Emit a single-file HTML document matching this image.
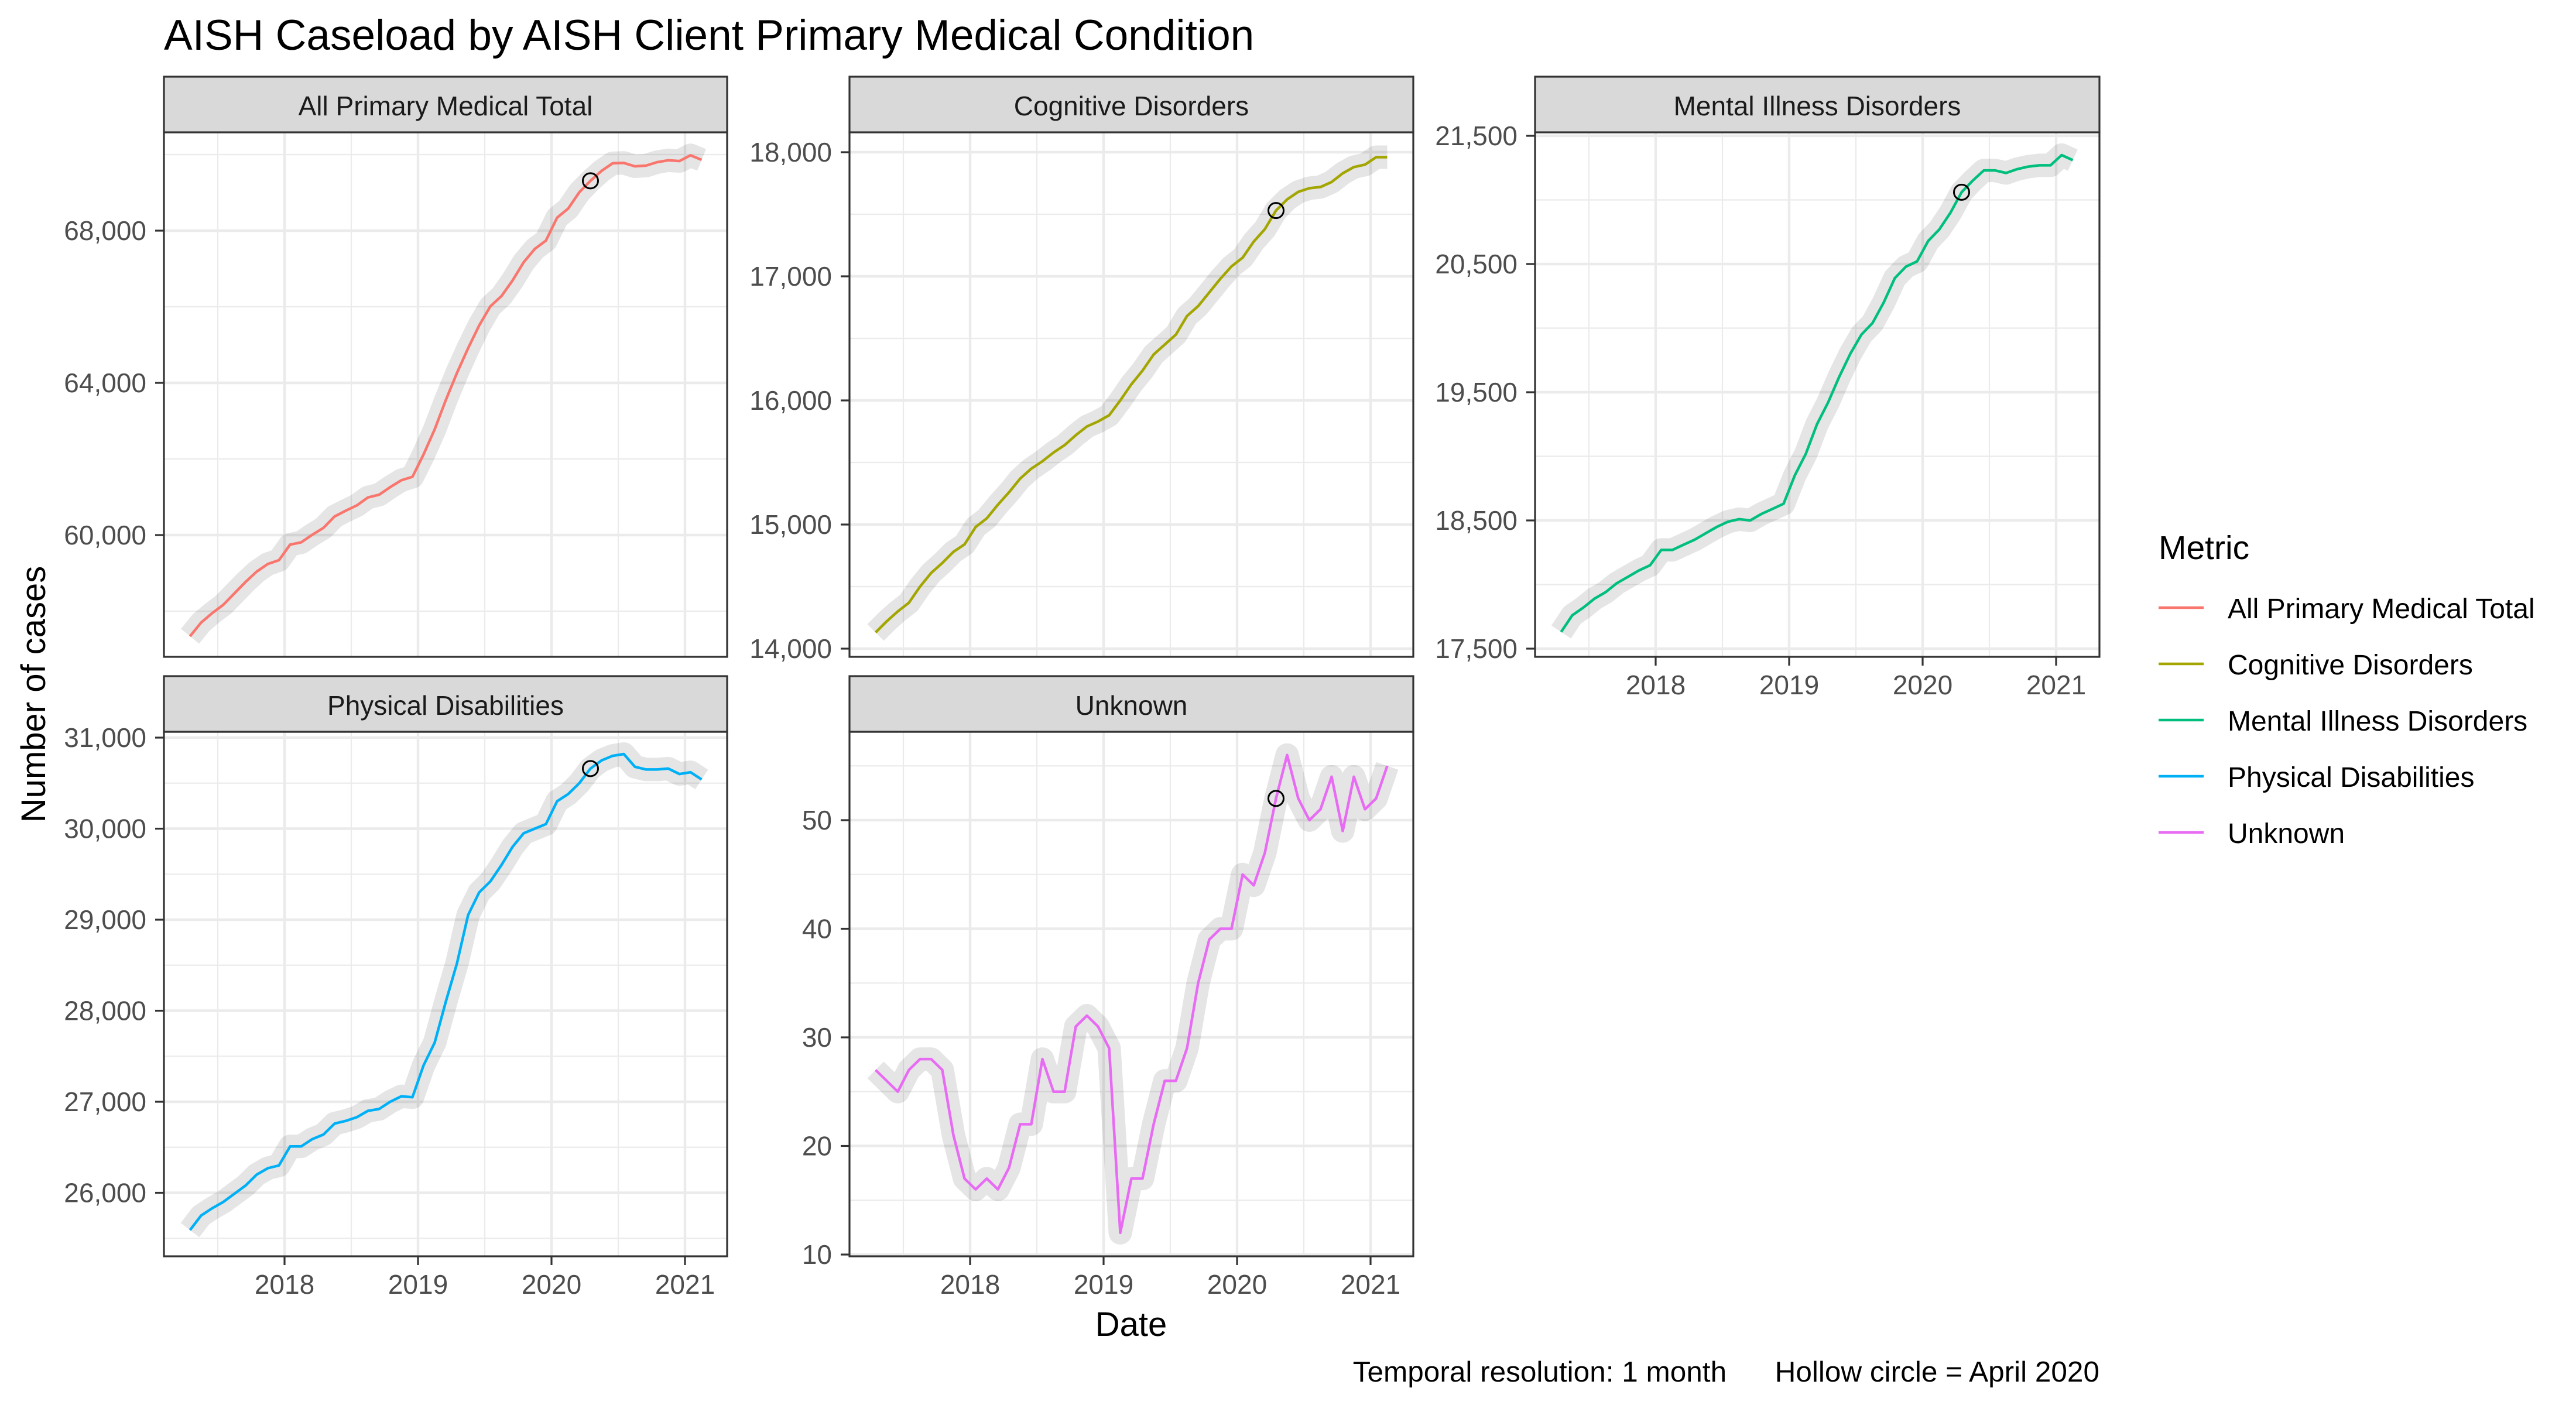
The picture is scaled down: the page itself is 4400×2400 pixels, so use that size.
<!DOCTYPE html>
<html><head><meta charset="utf-8"><style>
html,body{margin:0;padding:0;background:#fff;}
svg{display:block;font-family:"Liberation Sans",Arial,sans-serif;}
</style></head><body>
<svg id="chart" width="4400" height="2400" viewBox="0 0 4400 2400" xmlns="http://www.w3.org/2000/svg">
<rect width="4400" height="2400" fill="#fff"/>
<text x="280" y="85" font-size="73" fill="#000">AISH Caseload by AISH Client Primary Medical Condition</text>
<text transform="translate(77,1186) rotate(-90)" text-anchor="middle" font-size="58" fill="#000">Number of cases</text>
<text x="1932" y="2282" text-anchor="middle" font-size="58" fill="#000">Date</text>
<text x="3586" y="2360" text-anchor="end" font-size="49.5" fill="#000" xml:space="preserve">Temporal resolution: 1 month      Hollow circle = April 2020</text>
<g id="panels"></g>
<g id="legend">
<text x="3687" y="955" font-size="57" fill="#000">Metric</text>
</g>
</svg>
<script>
// ---- data ----
const startYear = 2017;
const startMonth = 4; // April 2017, monthly to Feb 2021
const xTickYears = [2018, 2019, 2020, 2021];
const highlightIndex = 36; // April 2020
const seriesNames = ["All Primary Medical Total", "Cognitive Disorders", "Mental Illness Disorders", "Physical Disabilities", "Unknown"];
const seriesColors = ["#F8766D", "#A3A500", "#00BF7D", "#00B0F6", "#E76BF3"];
const allTotal = [57340,57700,57950,58170,58470,58770,59040,59240,59340,59750,59810,60010,60190,60490,60640,60780,60990,61060,61260,61440,61530,62120,62780,63550,64260,64910,65510,66010,66280,66690,67170,67520,67740,68340,68580,69010,69310,69570,69770,69780,69690,69710,69800,69850,69830,69980,69860];
const cognitive = [14130,14220,14300,14370,14500,14610,14690,14780,14840,14980,15050,15160,15260,15370,15450,15510,15580,15640,15720,15790,15830,15880,16000,16130,16240,16370,16450,16530,16680,16760,16870,16980,17080,17150,17280,17380,17530,17620,17680,17710,17720,17760,17830,17880,17900,17960,17960];
const mental = [17630,17760,17820,17890,17940,18010,18060,18110,18150,18270,18270,18310,18350,18400,18450,18490,18510,18500,18550,18590,18630,18850,19020,19250,19420,19620,19800,19950,20040,20200,20390,20480,20520,20680,20770,20900,21060,21150,21230,21230,21210,21240,21260,21270,21270,21350,21310];
const physical = [25590,25750,25830,25900,25990,26080,26200,26270,26300,26510,26510,26590,26640,26760,26790,26830,26900,26920,27000,27060,27050,27400,27650,28100,28520,29050,29300,29420,29600,29800,29950,30000,30050,30300,30380,30500,30660,30750,30800,30820,30680,30650,30650,30660,30600,30620,30540];
const unknown = [27,26,25,27,28,28,27,21,17,16,17,16,18,22,22,28,25,25,31,32,31,29,12,17,17,22,26,26,29,35,39,40,40,45,44,47,52,56,52,50,51,54,49,54,51,52,55];
const ticksAll = [60000, 64000, 68000];
const ticksCog = [14000, 15000, 16000, 17000, 18000];
const ticksMental = [17500, 18500, 19500, 20500, 21500];
const ticksPhys = [26000, 27000, 28000, 29000, 30000, 31000];
const ticksUnknown = [10, 20, 30, 40, 50];

// ---- layout ----
const NS = "http://www.w3.org/2000/svg";
const layout = [
  {left:280, right:1242, top:131, refV:68000, refY:394, ppu:0.065, xlabels:false},
  {left:1451, right:2414, top:131, refV:18000, refY:260, ppu:0.212, xlabels:false},
  {left:2622, right:3586, top:131, refV:21500, refY:232, ppu:0.219, xlabels:true},
  {left:280, right:1242, top:1155, refV:31000, refY:1260, ppu:0.1555, xlabels:true},
  {left:1451, right:2414, top:1155, refV:10, refY:2143, ppu:18.55, xlabels:true}
];
const allSeries = [allTotal, cognitive, mental, physical, unknown];
const allTicks = [ticksAll, ticksCog, ticksMental, ticksPhys, ticksUnknown];
const STRIP = 95, PLOT = 896;

function mk(tag, attrs, parent){
  const e = document.createElementNS(NS, tag);
  for (const k in attrs) e.setAttribute(k, attrs[k]);
  parent.appendChild(e);
  return e;
}
function fmt(v){ return v >= 1000 ? v.toLocaleString("en-US") : String(v); }

const root = document.getElementById("panels");
layout.forEach((L, p) => {
  const data = allSeries[p], ticks = allTicks[p];
  const pt = L.top + STRIP, pb = pt + PLOT;
  const xScale = yr => L.left + 206 + (yr - 2018) * 228;
  const xOf = i => xScale(startYear + (startMonth - 1 + i + 0.5) / 12);
  const yOf = v => L.refY - (v - L.refV) * L.ppu;
  const slug = seriesNames[p].toLowerCase().replace(/ /g, "-");
  const g = mk("g", {}, root);
  
  
  mk("rect", {x:L.left, y:pt, width:L.right-L.left, height:PLOT, fill:"#fff"}, g);
  const clip = mk("clipPath", {id:"clip"+p}, g);
  mk("rect", {x:L.left, y:pt, width:L.right-L.left, height:PLOT}, clip);
  const grid = mk("g", {"clip-path":"url(#clip"+p+")"}, g);
  
  
  const step = ticks[1] - ticks[0];
  for (let k = -2; k < ticks.length + 2; k++) {
    const vmaj = ticks[0] + k * step, vmin = vmaj + step / 2;
    const ymin = yOf(vmin);
    if (ymin > pt && ymin < pb) mk("line", {x1:L.left, x2:L.right, y1:ymin, y2:ymin, stroke:"#EBEBEB", "stroke-width":2.2}, grid);
    const ymaj = yOf(vmaj);
    if (ymaj > pt - 3 && ymaj < pb + 3) mk("line", {x1:L.left, x2:L.right, y1:ymaj, y2:ymaj, stroke:"#EBEBEB", "stroke-width":4.4}, grid);
  }
  for (let yr = 2017; yr <= 2022; yr++) {
    const xm = xScale(yr), xn = xScale(yr + 0.5);
    if (xn > L.left && xn < L.right) mk("line", {x1:xn, x2:xn, y1:pt, y2:pb, stroke:"#EBEBEB", "stroke-width":2.2}, grid);
    if (xm > L.left && xm < L.right) mk("line", {x1:xm, x2:xm, y1:pt, y2:pb, stroke:"#EBEBEB", "stroke-width":4.4}, grid);
  }
  const pts = data.map((v, i) => xOf(i).toFixed(1) + "," + yOf(v).toFixed(1)).join(" ");
  const halo = mk("polyline", {points:pts, fill:"none", stroke:"#000", "stroke-opacity":0.1, "stroke-width":40, "stroke-linejoin":"round", "stroke-linecap":"butt"}, grid);
  
  
  const line = mk("polyline", {points:pts, fill:"none", stroke:seriesColors[p], "stroke-width":4.5, "stroke-linejoin":"round"}, grid);
  
  
  const c = mk("circle", {cx:xOf(highlightIndex), cy:yOf(data[highlightIndex]), r:13, fill:"none", stroke:"#000", "stroke-width":3}, g);
  
  
  mk("rect", {x:L.left, y:pt, width:L.right-L.left, height:PLOT, fill:"none", stroke:"#333", "stroke-width":3.2}, g);
  const strip = mk("rect", {x:L.left, y:L.top, width:L.right-L.left, height:STRIP, fill:"#D9D9D9", stroke:"#333", "stroke-width":3.2}, g);
  
  
  const st = mk("text", {x:(L.left+L.right)/2, y:L.top+66, "text-anchor":"middle", "font-size":46, fill:"#1A1A1A"}, g);
  st.textContent = seriesNames[p];
  
  
  ticks.forEach(v => {
    const y = yOf(v);
    mk("line", {x1:L.left-15, x2:L.left, y1:y, y2:y, stroke:"#333", "stroke-width":3.2}, g);
    const t = mk("text", {x:L.left-30, y:y+16, "text-anchor":"end", "font-size":46, fill:"#4D4D4D"}, g);
    t.textContent = fmt(v);
    
    
  });
  if (L.xlabels) {
    xTickYears.forEach(yr => {
      const x = xScale(yr);
      mk("line", {x1:x, x2:x, y1:pb, y2:pb+15, stroke:"#333", "stroke-width":3.2}, g);
      const t = mk("text", {x:x, y:pb+64, "text-anchor":"middle", "font-size":46, fill:"#4D4D4D"}, g);
      t.textContent = String(yr);
      
      
    });
  }
});

const lg = document.getElementById("legend");
seriesNames.forEach((n, i) => {
  const y = 1038 + i * 96;
  const key = mk("line", {x1:3687, x2:3764, y1:y, y2:y, stroke:seriesColors[i], "stroke-width":4.5}, lg);
  
  
  const t = mk("text", {x:3805, y:y+18, "font-size":48, fill:"#000"}, lg);
  t.textContent = n;
  
  
});
</script>
</body></html>
